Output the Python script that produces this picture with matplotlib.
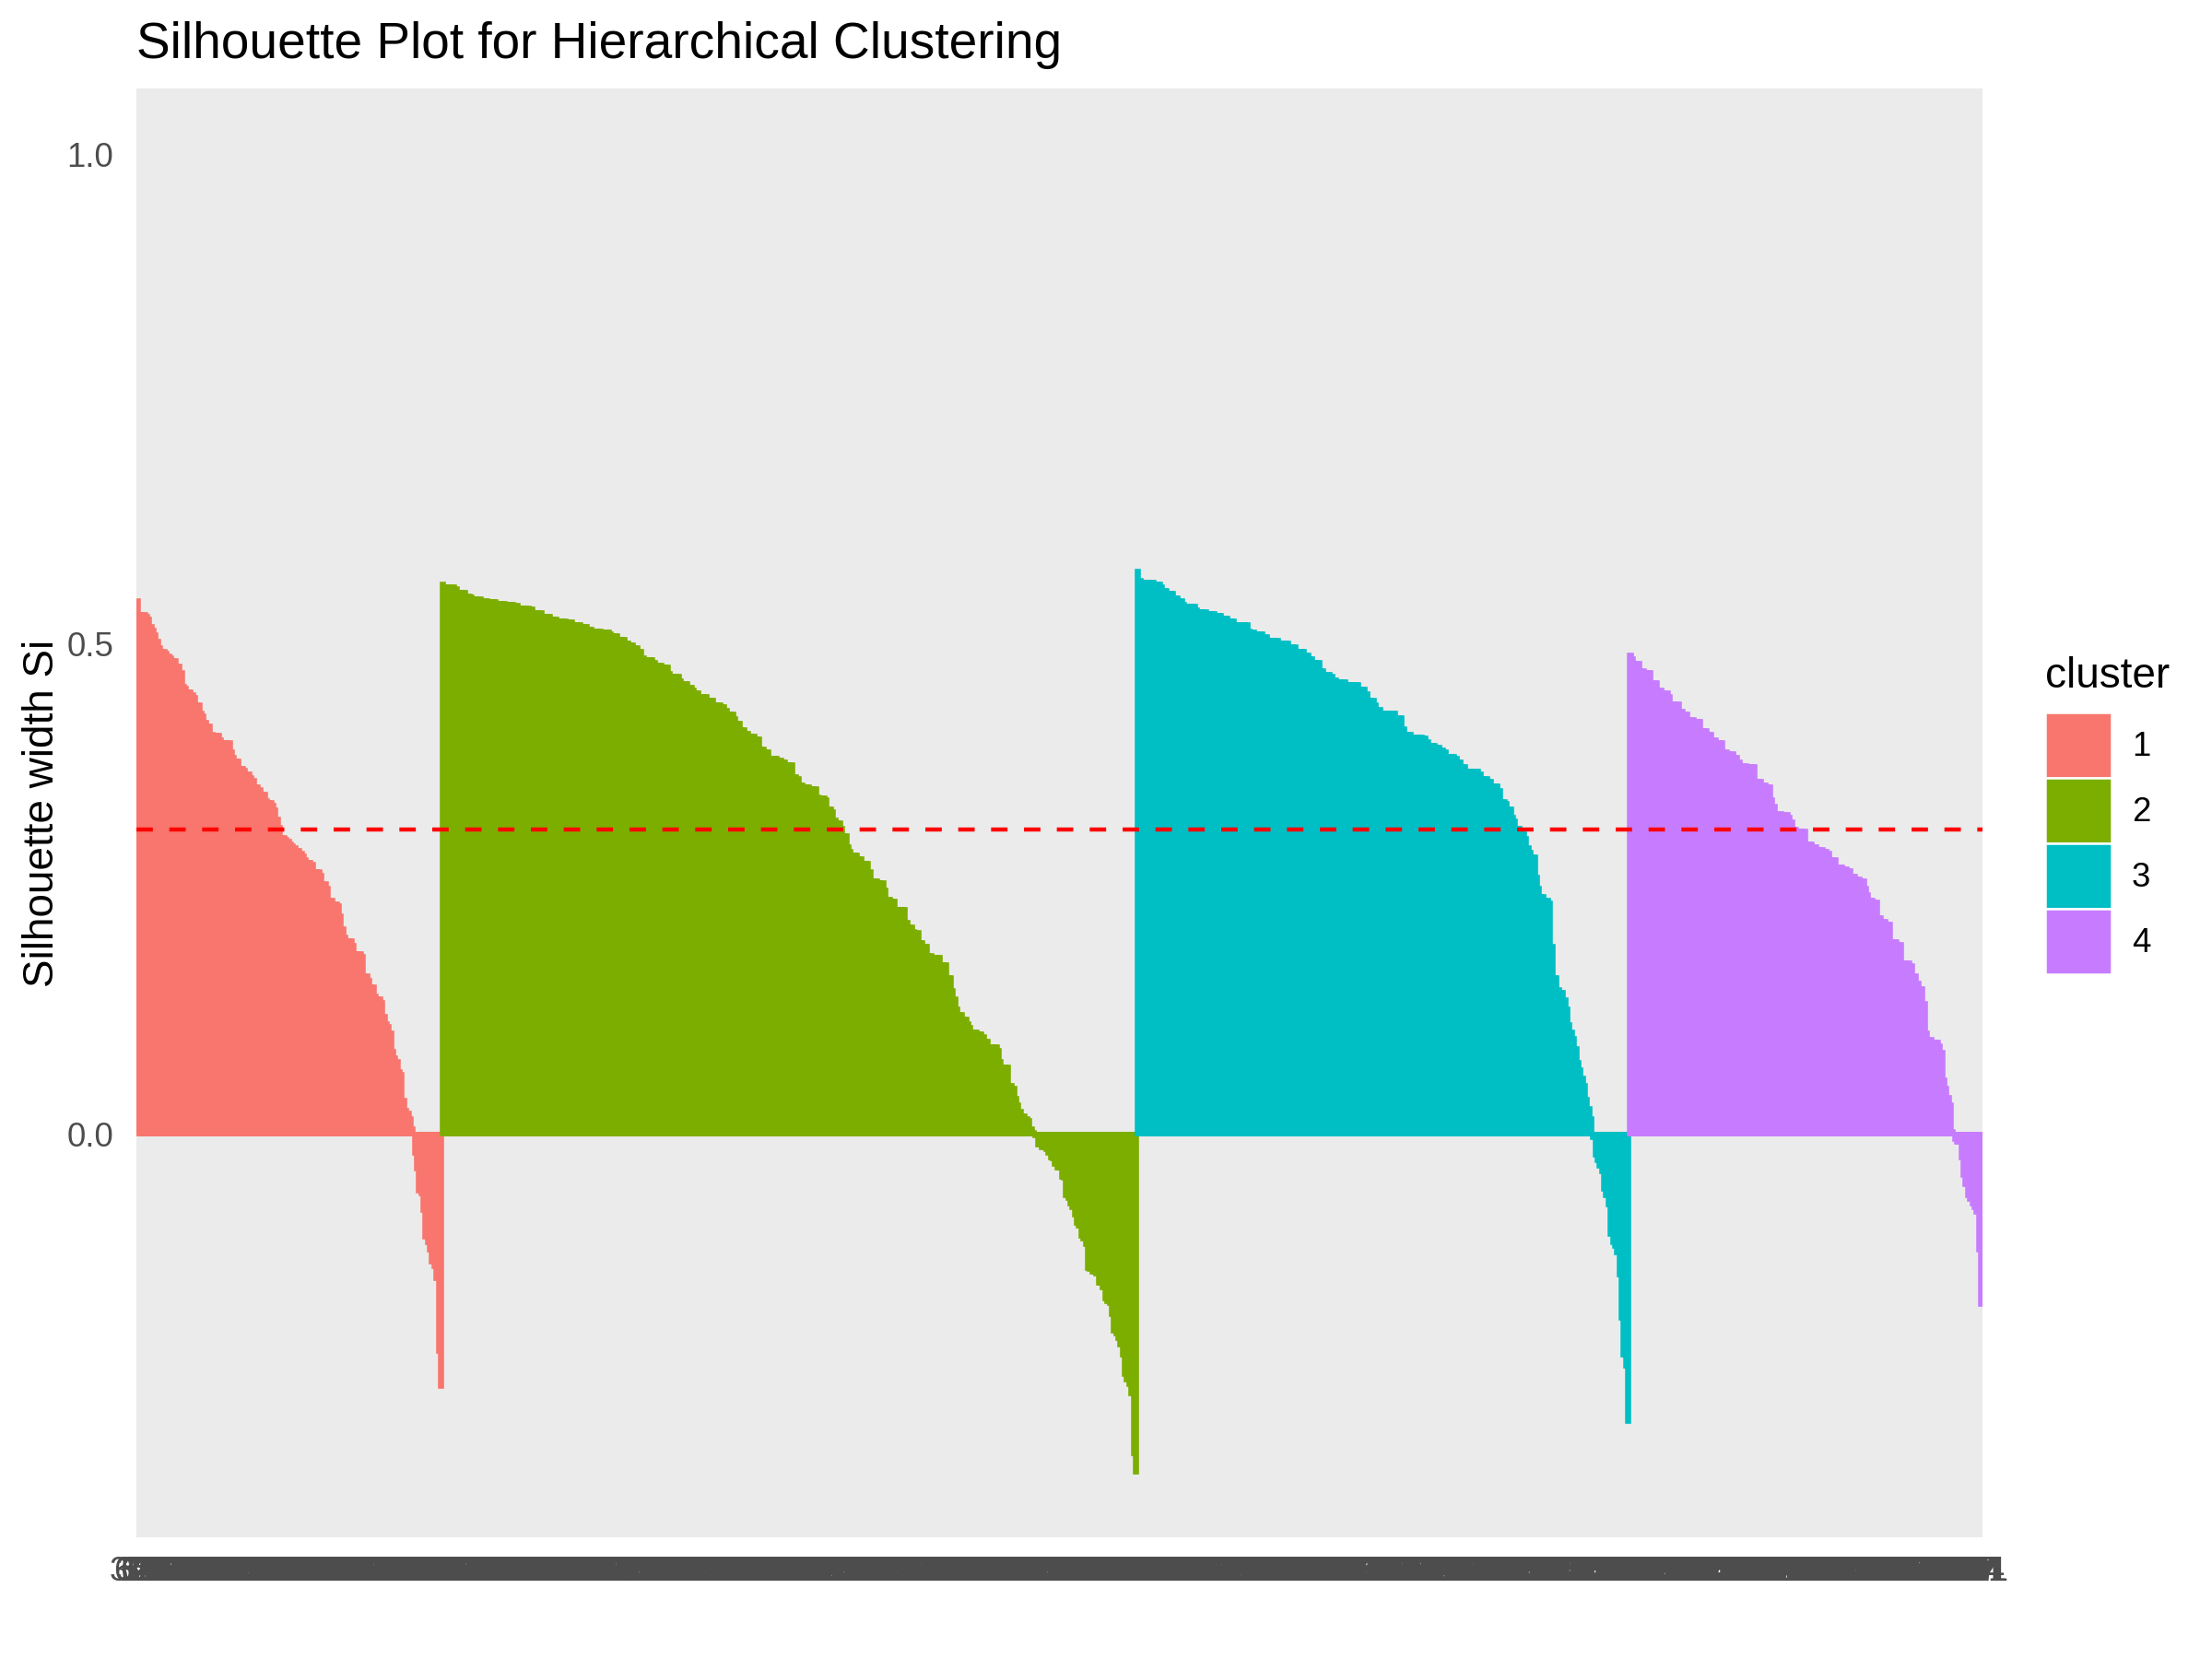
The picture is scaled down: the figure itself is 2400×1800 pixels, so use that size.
import numpy as np
import matplotlib
matplotlib.use('Agg')
import matplotlib.pyplot as plt
from matplotlib.patches import Patch

plt.rcParams['font.family'] = ['Liberation Sans', 'DejaVu Sans']

# silhouette width of every observation, read off the plot
# each cluster is already sorted from the largest to the smallest width
sil_c1 = [
    0.545, 0.531, 0.531, 0.531, 0.529, 0.526, 0.519, 0.515, 0.510, 0.504,
    0.497, 0.493, 0.493, 0.491, 0.489, 0.487, 0.484, 0.484, 0.478, 0.478,
    0.472, 0.458, 0.456, 0.452, 0.452, 0.449, 0.446, 0.439, 0.439, 0.430,
    0.427, 0.421, 0.417, 0.417, 0.409, 0.408, 0.408, 0.408, 0.403, 0.400,
    0.400, 0.400, 0.400, 0.391, 0.385, 0.381, 0.381, 0.374, 0.374, 0.372,
    0.368, 0.368, 0.364, 0.362, 0.355, 0.355, 0.352, 0.347, 0.347, 0.341,
    0.339, 0.339, 0.336, 0.331, 0.322, 0.314, 0.303, 0.303, 0.301, 0.299,
    0.297, 0.295, 0.293, 0.290, 0.290, 0.287, 0.284, 0.281, 0.278, 0.278,
    0.276, 0.268, 0.268, 0.268, 0.265, 0.256, 0.256, 0.251, 0.239, 0.239,
    0.235, 0.235, 0.234, 0.223, 0.210, 0.202, 0.198, 0.198, 0.198, 0.193,
    0.185, 0.185, 0.185, 0.182, 0.162, 0.162, 0.157, 0.151, 0.151, 0.141,
    0.139, 0.139, 0.135, 0.121, 0.113, 0.110, 0.104, 0.085, 0.078, 0.075,
    0.064, 0.061, 0.035, 0.025, 0.022, 0.016, 0.006,
    -0.020, -0.036, -0.058, -0.061, -0.078, -0.105, -0.111, -0.118, -0.131, -0.135,
    -0.148, -0.222, -0.258,
]

sil_c2 = [
    0.562, 0.559, 0.559, 0.559, 0.559, 0.559, 0.557, 0.554, 0.554, 0.554,
    0.554, 0.550, 0.550, 0.549, 0.547, 0.547, 0.547, 0.547, 0.545, 0.545,
    0.545, 0.544, 0.544, 0.544, 0.544, 0.542, 0.542, 0.542, 0.542, 0.541,
    0.541, 0.541, 0.541, 0.540, 0.540, 0.538, 0.538, 0.538, 0.538, 0.538,
    0.537, 0.537, 0.533, 0.533, 0.533, 0.533, 0.529, 0.529, 0.529, 0.529,
    0.526, 0.526, 0.526, 0.524, 0.524, 0.524, 0.524, 0.523, 0.523, 0.523,
    0.521, 0.521, 0.521, 0.521, 0.519, 0.519, 0.519, 0.516, 0.516, 0.514,
    0.514, 0.514, 0.514, 0.513, 0.513, 0.513, 0.513, 0.511, 0.509, 0.509,
    0.509, 0.506, 0.506, 0.506, 0.502, 0.502, 0.500, 0.500, 0.497, 0.497,
    0.493, 0.493, 0.487, 0.485, 0.485, 0.485, 0.485, 0.482, 0.479, 0.479,
    0.479, 0.477, 0.477, 0.477, 0.471, 0.468, 0.468, 0.468, 0.468, 0.463,
    0.460, 0.460, 0.460, 0.457, 0.457, 0.454, 0.451, 0.451, 0.447, 0.447,
    0.447, 0.447, 0.443, 0.443, 0.443, 0.439, 0.439, 0.439, 0.437, 0.437,
    0.433, 0.429, 0.429, 0.429, 0.425, 0.420, 0.420, 0.413, 0.413, 0.410,
    0.410, 0.407, 0.407, 0.407, 0.404, 0.404, 0.394, 0.394, 0.391, 0.391,
    0.384, 0.384, 0.384, 0.384, 0.382, 0.382, 0.380, 0.380, 0.378, 0.378,
    0.378, 0.365, 0.365, 0.363, 0.357, 0.357, 0.355, 0.355, 0.355, 0.353,
    0.353, 0.353, 0.345, 0.344, 0.344, 0.344, 0.342, 0.332, 0.332, 0.330,
    0.321, 0.318, 0.318, 0.313, 0.305, 0.305, 0.294, 0.289, 0.285, 0.285,
    0.285, 0.282, 0.282, 0.277, 0.277, 0.277, 0.268, 0.259, 0.259, 0.259,
    0.257, 0.257, 0.257, 0.250, 0.240, 0.240, 0.238, 0.238, 0.230, 0.230,
    0.230, 0.230, 0.230, 0.217, 0.212, 0.212, 0.207, 0.206, 0.206, 0.196,
    0.196, 0.192, 0.192, 0.183, 0.183, 0.181, 0.181, 0.181, 0.181, 0.173,
    0.173, 0.173, 0.160, 0.160, 0.147, 0.139, 0.128, 0.123, 0.123, 0.118,
    0.118, 0.113, 0.109, 0.105, 0.105, 0.105, 0.103, 0.103, 0.100, 0.095,
    0.095, 0.090, 0.090, 0.090, 0.090, 0.086, 0.075, 0.069, 0.069, 0.069,
    0.050, 0.050, 0.047, 0.037, 0.030, 0.024, 0.019, 0.019, 0.016, 0.014,
    0.006, 0.002,
    -0.002, -0.011, -0.011, -0.014, -0.014, -0.016, -0.020, -0.024, -0.025, -0.031,
    -0.035, -0.035, -0.044, -0.045, -0.063, -0.066, -0.071, -0.075, -0.083, -0.091,
    -0.094, -0.104, -0.107, -0.113, -0.137, -0.138, -0.141, -0.141, -0.143, -0.152,
    -0.152, -0.157, -0.168, -0.171, -0.173, -0.184, -0.201, -0.204, -0.209, -0.215,
    -0.226, -0.245, -0.251, -0.256, -0.265, -0.326, -0.345,
]

sil_c3 = [
    0.575, 0.566, 0.564, 0.564, 0.564, 0.564, 0.564, 0.564, 0.562, 0.562,
    0.562, 0.559, 0.555, 0.555, 0.553, 0.553, 0.553, 0.548, 0.548, 0.545,
    0.545, 0.541, 0.539, 0.539, 0.539, 0.539, 0.539, 0.536, 0.534, 0.534,
    0.534, 0.534, 0.532, 0.532, 0.532, 0.532, 0.530, 0.530, 0.530, 0.527,
    0.527, 0.527, 0.524, 0.524, 0.524, 0.521, 0.521, 0.521, 0.521, 0.521,
    0.521, 0.514, 0.513, 0.513, 0.511, 0.511, 0.511, 0.511, 0.508, 0.508,
    0.505, 0.505, 0.505, 0.505, 0.505, 0.502, 0.502, 0.502, 0.502, 0.502,
    0.498, 0.498, 0.498, 0.493, 0.493, 0.493, 0.493, 0.490, 0.490, 0.486,
    0.486, 0.482, 0.482, 0.482, 0.474, 0.474, 0.470, 0.470, 0.470, 0.468,
    0.464, 0.464, 0.462, 0.462, 0.462, 0.462, 0.459, 0.459, 0.459, 0.459,
    0.459, 0.459, 0.455, 0.455, 0.455, 0.450, 0.443, 0.443, 0.443, 0.439,
    0.434, 0.434, 0.430, 0.430, 0.430, 0.430, 0.430, 0.430, 0.430, 0.426,
    0.426, 0.426, 0.414, 0.409, 0.409, 0.409, 0.406, 0.406, 0.406, 0.406,
    0.406, 0.405, 0.405, 0.401, 0.397, 0.397, 0.397, 0.395, 0.395, 0.393,
    0.393, 0.391, 0.386, 0.386, 0.386, 0.386, 0.384, 0.380, 0.380, 0.376,
    0.376, 0.371, 0.371, 0.371, 0.371, 0.371, 0.371, 0.368, 0.363, 0.363,
    0.363, 0.361, 0.361, 0.356, 0.356, 0.356, 0.351, 0.340, 0.340, 0.338,
    0.332, 0.332, 0.324, 0.320, 0.313, 0.313, 0.307, 0.307, 0.302, 0.293,
    0.288, 0.283, 0.283, 0.263, 0.251, 0.243, 0.243, 0.239, 0.239, 0.236,
    0.192, 0.160, 0.160, 0.148, 0.145, 0.145, 0.138, 0.128, 0.112, 0.105,
    0.098, 0.088, 0.074, 0.066, 0.058, 0.050, 0.036, 0.027, 0.016, -0.004,
    -0.021, -0.027, -0.033, -0.038, -0.056, -0.063, -0.072, -0.102, -0.111, -0.115,
    -0.121, -0.144, -0.188, -0.226, -0.237, -0.293,
]

sil_c4 = [
    0.490, 0.486, 0.481, 0.481, 0.481, 0.474, 0.474, 0.472, 0.472, 0.472,
    0.461, 0.461, 0.461, 0.454, 0.454, 0.451, 0.451, 0.451, 0.447, 0.440,
    0.440, 0.440, 0.440, 0.432, 0.432, 0.429, 0.429, 0.424, 0.424, 0.424,
    0.422, 0.422, 0.422, 0.412, 0.412, 0.412, 0.409, 0.409, 0.403, 0.403,
    0.400, 0.400, 0.400, 0.391, 0.391, 0.389, 0.389, 0.389, 0.385, 0.385,
    0.380, 0.377, 0.377, 0.377, 0.376, 0.376, 0.376, 0.376, 0.361, 0.361,
    0.361, 0.357, 0.357, 0.355, 0.355, 0.342, 0.335, 0.328, 0.328, 0.328,
    0.327, 0.327, 0.327, 0.324, 0.319, 0.312, 0.312, 0.310, 0.310, 0.310,
    0.310, 0.297, 0.297, 0.297, 0.294, 0.294, 0.291, 0.291, 0.291, 0.289,
    0.289, 0.287, 0.281, 0.281, 0.281, 0.273, 0.273, 0.273, 0.271, 0.271,
    0.269, 0.269, 0.264, 0.264, 0.261, 0.261, 0.259, 0.259, 0.251, 0.245,
    0.239, 0.239, 0.237, 0.237, 0.221, 0.221, 0.218, 0.218, 0.215, 0.215,
    0.197, 0.197, 0.197, 0.194, 0.194, 0.175, 0.175, 0.175, 0.175, 0.172,
    0.162, 0.162, 0.155, 0.149, 0.149, 0.134, 0.104, 0.097, 0.097, 0.094,
    0.094, 0.094, 0.091, 0.084, 0.056, 0.047, 0.038, 0.030, 0.003, -0.005,
    -0.008, -0.008, -0.024, -0.042, -0.052, -0.063, -0.067, -0.071, -0.075, -0.080,
    -0.118, -0.174,
]

cluster_names = ['1', '2', '3', '4']
cluster_colors = ['#F8766D', '#7CAE00', '#00BFC4', '#C77CFF']
avg_sil_width = 0.311   # red dashed line

y_ticks = [0.0, 0.5, 1.0]
y_tick_labels = ['0.0', '0.5', '1.0']

# the observation names under the bars overlap into one grey band and
# cannot be read, so plain numeric names stand in for them
all_sil = [sil_c1, sil_c2, sil_c3, sil_c4]
n_obs = sum(len(s) for s in all_sil)
obs_names = [str((i * 577 + 300) % n_obs + 1) for i in range(n_obs)]


def draw():
    fig = plt.figure(figsize=(8, 6), dpi=300)
    ax = fig.add_axes([148 / 2400, 1 - 1668 / 1800,
                       (2150.5 - 148) / 2400, (1668 - 96.4) / 1800])
    ax.set_facecolor('#EBEBEB')

    start = 0
    for sil, col in zip(all_sil, cluster_colors):
        xs = np.arange(start, start + len(sil))
        ax.bar(xs, sil, width=0.9, color=col, edgecolor=col, linewidth=1.1)
        start += len(sil)

    ax.axhline(avg_sil_width, color='#FF0000', linewidth=1.07,
               linestyle=(0, (4, 4)))

    ax.set_xlim(-0.6, n_obs - 1 + 0.6)
    ax.set_ylim(-0.412, 1.067)

    ax.set_xticks(np.arange(n_obs))
    ax.set_xticklabels(obs_names, fontsize=8.8, color='#4D4D4D')
    ax.set_yticks(y_ticks)
    ax.set_yticklabels(y_tick_labels, fontsize=8.8, color='#4D4D4D')
    ax.tick_params(axis='both', length=0)
    ax.tick_params(axis='x', pad=4.8)
    ax.tick_params(axis='y', pad=6)
    for s in ax.spines.values():
        s.set_visible(False)

    ax.set_ylabel('Silhouette width Si', fontsize=11, color='black', labelpad=1.0)
    ax.set_title('Silhouette Plot for Hierarchical Clustering', loc='left',
                 fontsize=13.2, color='black', pad=8.1)

    handles = [Patch(facecolor=c, edgecolor='white', linewidth=0.6)
               for c in cluster_colors]
    leg = fig.legend(handles, cluster_names, title='cluster',
                     loc='upper left', bbox_to_anchor=(2219 / 2400, 1 - 712.5 / 1800),
                     frameon=False, fontsize=8.8, title_fontsize=11,
                     handlelength=1.96, handleheight=2.6, labelspacing=0,
                     handletextpad=0.6, borderpad=0, borderaxespad=0,
                     alignment='left')
    leg._legend_box.sep = 4.0

    fig.savefig('out.png', dpi=300)


if __name__ == '__main__':
    draw()
